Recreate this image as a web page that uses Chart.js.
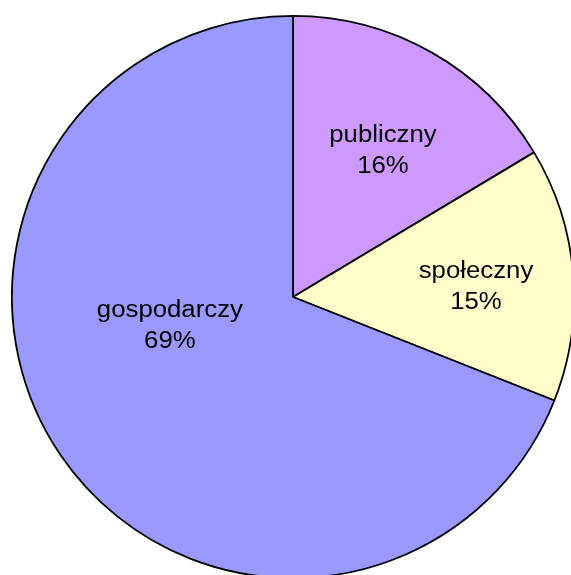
<!DOCTYPE html>
<html>
<head>
<meta charset="utf-8">
<script src="https://cdn.jsdelivr.net/npm/chart.js@4"></script>
<style>
  html, body { margin: 0; padding: 0; background: #fff; width: 571px; height: 575px; overflow: hidden; position: relative; }
  #wrap { position: absolute; left: 11px; top: 15px; width: 564px; height: 564px; }
</style>
</head>
<body>
<div id="wrap"><canvas id="c"></canvas></div>
<script>
const categories = ["publiczny", "społeczny", "gospodarczy"];
const values = [16.4, 14.6, 69.0];
const colors = ["#CC99FF", "#FFFFCC", "#9999FF"];
// label anchor offsets relative to pie centre, in units of radius
const labelOffsets = [[0.32, -0.495], [0.651, -0.011], [-0.438, 0.128]];

const labelPlugin = {
  id: 'sliceLabels',
  afterDatasetsDraw(chart) {
    const ctx = chart.ctx;
    const meta = chart.getDatasetMeta(0);
    const total = values.reduce((a, b) => a + b, 0);
    ctx.save();
    ctx.fillStyle = '#000';
    ctx.textAlign = 'center';
    ctx.textBaseline = 'alphabetic';
    ctx.font = '23px "Liberation Sans", Arial, sans-serif';
    meta.data.forEach((arc, i) => {
      const r = arc.outerRadius;
      const x = arc.x + labelOffsets[i][0] * r;
      const y = arc.y + labelOffsets[i][1] * r;
      const pct = Math.round(values[i] / total * 100) + '%';
      [categories[i], pct].forEach((t, k) => {
        ctx.save();
        ctx.translate(x, y - 15.5 + k * 31);
        ctx.scale(1.12, 1);
        ctx.fillText(t, 0, 0);
        ctx.restore();
      });
    });
    ctx.restore();
  }
};

new Chart(document.getElementById('c'), {
  type: 'pie',
  data: {
    labels: categories,
    datasets: [{
      data: values,
      backgroundColor: colors,
      borderColor: '#000',
      borderWidth: 1.8
    }]
  },
  options: {
    responsive: true,
    maintainAspectRatio: false,
    animation: false,
    layout: { padding: 0 },
    plugins: { legend: { display: false }, tooltip: { enabled: false } }
  },
  plugins: [labelPlugin]
});
</script>
</body>
</html>
